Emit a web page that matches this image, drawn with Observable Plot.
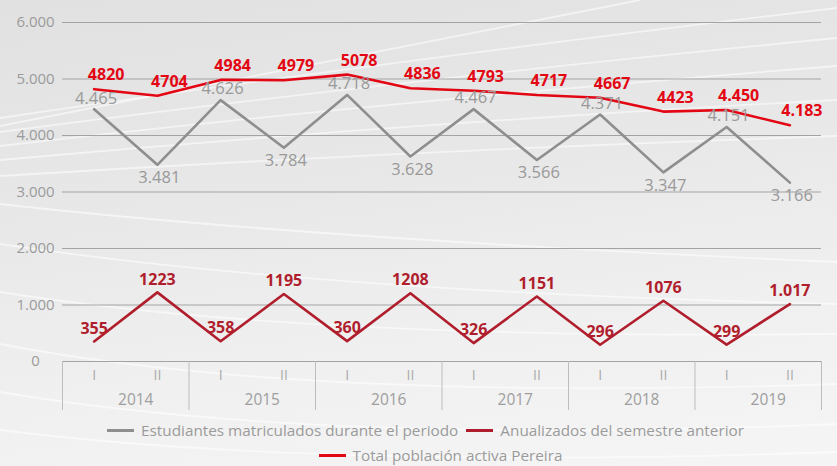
<!DOCTYPE html>
<html>
<head>
<meta charset="utf-8">
<script src="https://cdn.jsdelivr.net/npm/d3@7"></script>
<script src="https://cdn.jsdelivr.net/npm/@observablehq/plot@0.6"></script>
<style>
  html, body { margin: 0; padding: 0; }
  body {
    position: relative;
    width: 837px; height: 466px; overflow: hidden;
    background: linear-gradient(172deg, #e1e1e1 0%, #e8e8e8 40%, #f0f0f0 70%, #f5f5f5 100%);
    font-family: "Open Sans", sans-serif;
  }
  #deco { position: absolute; left: 0; top: 0; width: 837px; height: 466px; }
  #chart { position: relative; }
  #chart svg { display: block; }
  .legend { position: absolute; left: 0; width: 837px; color: #9b9b9b; font-size: 15.3px; }
  .row { position: absolute; left: 0; width: 837px; display: flex; justify-content: center; align-items: center; height: 20px; line-height: 20px; }
  .item { display: flex; align-items: center; margin: 0 4px; white-space: nowrap; }
  .sw { display: inline-block; width: 27px; height: 3px; margin-right: 7px; }
</style>
</head>
<body>
<div id="deco"></div>
<div id="chart"></div>
<div class="legend" style="top:0">
  <div class="row" style="top:420px; padding-left:14px; box-sizing:border-box">
    <span class="item"><span class="sw" style="background:#8e8e8e"></span>Estudiantes matriculados durante el periodo</span>
    <span class="item"><span class="sw" style="background:#b01e2d"></span>Anualizados del semestre anterior</span>
  </div>
  <div class="row" style="top:445px; padding-left:44px; box-sizing:border-box">
    <span class="item"><span class="sw" style="background:#e30613"></span>Total población activa Pereira</span>
  </div>
</div>
<script>
const semesters = ["I","II","I","II","I","II","I","II","I","II","I","II"];
const years = ["2014","2015","2016","2017","2018","2019"];
const estudiantes = [4465, 3481, 4626, 3784, 4718, 3628, 4467, 3566, 4371, 3347, 4151, 3166];
const estudiantesLabels = ["4.465","3.481","4.626","3.784","4.718","3.628","4.467","3.566","4.371","3.347","4.151","3.166"];
const anualizados = [355, 1223, 358, 1195, 360, 1208, 326, 1151, 296, 1076, 299, 1017];
const anualizadosLabels = ["355","1223","358","1195","360","1208","326","1151","296","1076","299","1.017"];
const total = [4820, 4704, 4984, 4979, 5078, 4836, 4793, 4717, 4667, 4423, 4450, 4183];
const totalLabels = ["4820","4704","4984","4979","5078","4836","4793","4717","4667","4423","4.450","4.183"];
const yTicks = [0, 1000, 2000, 3000, 4000, 5000, 6000];

// decorative background swooshes (not data)
const decoPaths = [
  "M0,118 Q380,62 837,8", "M0,132 Q400,80 837,38", "M0,146 Q400,100 837,66",
  "M0,126 Q300,66 640,0", "M0,160 Q420,122 837,100", "M0,176 Q420,150 837,136",
  "M0,204 Q300,238 837,262", "M0,244 Q320,292 837,304", "M0,292 Q300,340 837,334",
  "M0,344 Q300,402 837,384", "M0,392 Q320,446 837,424", "M0,430 Q320,470 837,452"
];
document.getElementById("deco").innerHTML =
  '<svg width="837" height="466" xmlns="http://www.w3.org/2000/svg">' +
  decoPaths.map(p => `<path d="${p}" fill="none" stroke="white" stroke-width="1.8" stroke-opacity="0.55"/>`).join("") +
  '</svg>';

const idx = semesters.map((_, i) => i);
const est = idx.map(i => ({i, v: estudiantes[i], label: estudiantesLabels[i], peak: i % 2 === 0}));
const anu = idx.map(i => ({i, v: anualizados[i], label: anualizadosLabels[i]}));
const tot = idx.map(i => ({i, v: total[i], label: totalLabels[i]}));
const yearBounds = years.map((_, k) => 2 * k - 0.5).concat([2 * years.length - 0.5]);
const yearCenters = years.map((_, k) => 2 * k + 0.5);

const fmtY = d => d === 0 ? "0" : d3.format(",")(d).replace(/,/g, ".");

const grayC = "#8e8e8e", darkRed = "#b01e2d", red = "#e30613";

const chart = Plot.plot({
  width: 837,
  height: 415,
  marginTop: 22,
  marginLeft: 62,
  marginRight: 16,
  marginBottom: 54,
  x: {type: "linear", domain: [-0.5, 11.5], axis: null},
  y: {domain: [0, 6000], axis: null},
  style: {background: "transparent", fontFamily: "Open Sans, sans-serif", overflow: "visible"},
  marks: [
    Plot.gridY(yTicks, {stroke: "#a3a3a3", strokeOpacity: 1, strokeWidth: 1.2}),
    Plot.axisY({ticks: yTicks, label: null, tickSize: 0, tickPadding: 27, textAnchor: "middle", tickFormat: fmtY, fill: "#9b9b9b", fontSize: 15}),
    Plot.axisX({ticks: yearBounds, label: null, tickSize: 49, tickFormat: () => "", stroke: "#bdbdbd", strokeOpacity: 1}),
    Plot.axisX({ticks: idx, label: null, tickSize: 0, tickPadding: 9, tickFormat: i => semesters[i], fill: "#ababab", fontSize: 14}),
    Plot.axisX({ticks: yearCenters, label: null, tickSize: 0, tickPadding: 32, tickFormat: (d, k) => years[k], fill: "#9e9e9e", fontSize: 15.5, dx: 10}),
    Plot.line(est, {x: "i", y: "v", stroke: grayC, strokeWidth: 2.6}),
    Plot.line(anu, {x: "i", y: "v", stroke: darkRed, strokeWidth: 2.6}),
    Plot.line(tot, {x: "i", y: "v", stroke: red, strokeWidth: 2.6}),
    Plot.text(est, {filter: d => d.peak, x: "i", y: "v", text: "label", dy: -11, dx: 2, fill: "#999", fontSize: 16.5}),
    Plot.text(est, {filter: d => !d.peak, x: "i", y: "v", text: "label", dy: 13, dx: 2, fill: "#999", fontSize: 16.5}),
    Plot.text(anu, {x: "i", y: "v", text: "label", dy: -13, fill: darkRed, fontSize: 16, fontWeight: "bold"}),
    Plot.text(tot, {x: "i", y: "v", text: "label", dy: -14, dx: 12, fill: red, fontSize: 16, fontWeight: "bold"})
  ]
});
document.getElementById("chart").appendChild(chart);
</script>
</body>
</html>
